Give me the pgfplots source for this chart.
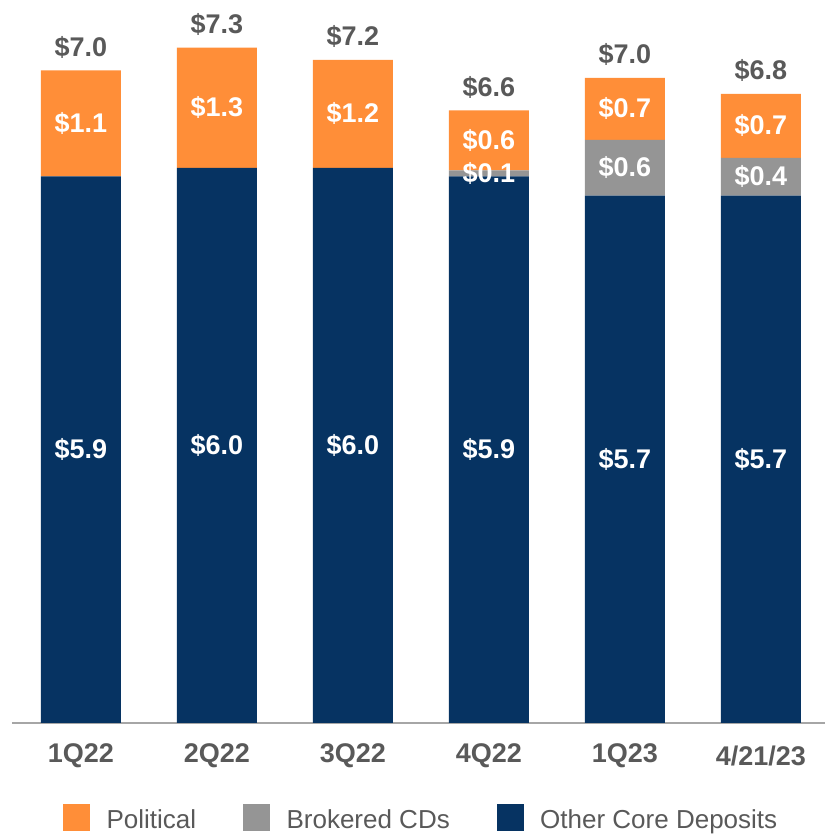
\documentclass[border=0pt]{standalone}
\usepackage{pgfplots}
\pgfplotsset{compat=1.18}
\usepackage{fontspec}
\setmainfont{Liberation Sans}
\definecolor{myorange}{RGB}{255,142,56}
\definecolor{mygray}{RGB}{149,149,149}
\definecolor{mynavy}{RGB}{6,51,98}
\definecolor{txtgray}{RGB}{89,89,89}
\definecolor{axgray}{RGB}{166,166,166}
\begin{document}
\begin{tikzpicture}
\useasboundingbox (0,0) rectangle (825pt,836pt);
\pgfplotsset{common/.style={scale only axis, width=813pt, height=723pt,
  xmin=-0.507, xmax=5.471, ymin=0, ymax=7.816,
  at={(12pt,113pt)}, anchor=south west, clip=false}}
\begin{axis}[common, ybar stacked, bar width=80pt,
  axis y line=none, axis x line*=bottom,
  x axis line style={draw=axgray, line width=2pt, -},
  xtick={0,1,2,3,4,5},
  xticklabels={1Q22,2Q22,3Q22,4Q22,1Q23,4/21/23},
  major tick length=0pt,
  xticklabel style={anchor=center, yshift=-33pt, font=\fontsize{27}{32}\selectfont\bfseries, text=txtgray}]
\addplot[fill=mynavy, draw=none] coordinates {(0,5.91) (1,6.00) (2,6.00) (3,5.91) (4,5.70) (5,5.70)};
\addplot[fill=mygray, draw=none] coordinates {(0,0) (1,0) (2,0) (3,0.065) (4,0.605) (5,0.41)};
\addplot[fill=myorange, draw=none] coordinates {(0,1.146) (1,1.30) (2,1.168) (3,0.649) (4,0.67) (5,0.69)};
\end{axis}
\begin{axis}[common, hide axis,
  legend columns=3,
  legend cell align=left,
  legend style={at={(0.0627,-0.130)}, anchor=west, draw=none, fill=none, inner sep=0pt,
    font=\fontsize{26}{31}\selectfont,
    nodes={inner sep=0pt, text=txtgray},
    /tikz/every odd column/.append style={column sep=17pt},
    /tikz/every even column/.append style={column sep=47pt}}]
\addlegendimage{legend image code/.code={\fill[myorange] (0pt,-10pt) rectangle (26pt,16pt);}}
\addlegendentry{Political}
\addlegendimage{legend image code/.code={\fill[mygray] (0pt,-10pt) rectangle (26pt,16pt);}}
\addlegendentry{Brokered CDs}
\addlegendimage{legend image code/.code={\fill[mynavy] (0pt,-10pt) rectangle (26pt,16pt);}}
\addlegendentry{Other Core Deposits}
% segment labels (white)
\addplot[draw=none, forget plot, nodes near coords, point meta=explicit symbolic,
  every node near coord/.append style={anchor=center, text=white, font=\fontsize{27}{32}\selectfont\bfseries}]
  coordinates {(0,2.955)[\$5.9] (1,3.00)[\$6.0] (2,3.00)[\$6.0] (3,2.955)[\$5.9] (4,2.85)[\$5.7] (5,2.85)[\$5.7]};
\addplot[draw=none, forget plot, nodes near coords, point meta=explicit symbolic,
  every node near coord/.append style={anchor=center, text=white, font=\fontsize{27}{32}\selectfont\bfseries}]
  coordinates {(3,5.94)[\$0.1] (4,6.00)[\$0.6] (5,5.905)[\$0.4]};
\addplot[draw=none, forget plot, nodes near coords, point meta=explicit symbolic,
  every node near coord/.append style={anchor=center, text=white, font=\fontsize{27}{32}\selectfont\bfseries}]
  coordinates {(0,6.483)[\$1.1] (1,6.65)[\$1.3] (2,6.584)[\$1.2] (3,6.30)[\$0.6] (4,6.64)[\$0.7] (5,6.455)[\$0.7]};
% totals
\addplot[draw=none, forget plot, nodes near coords, point meta=explicit symbolic,
  every node near coord/.append style={anchor=center, yshift=23pt, text=txtgray, font=\fontsize{27}{32}\selectfont\bfseries}]
  coordinates {(0,7.056)[\$7.0] (1,7.30)[\$7.3] (2,7.168)[\$7.2] (3,6.624)[\$6.6] (4,6.975)[\$7.0] (5,6.80)[\$6.8]};
\end{axis}
\end{tikzpicture}
\end{document}
